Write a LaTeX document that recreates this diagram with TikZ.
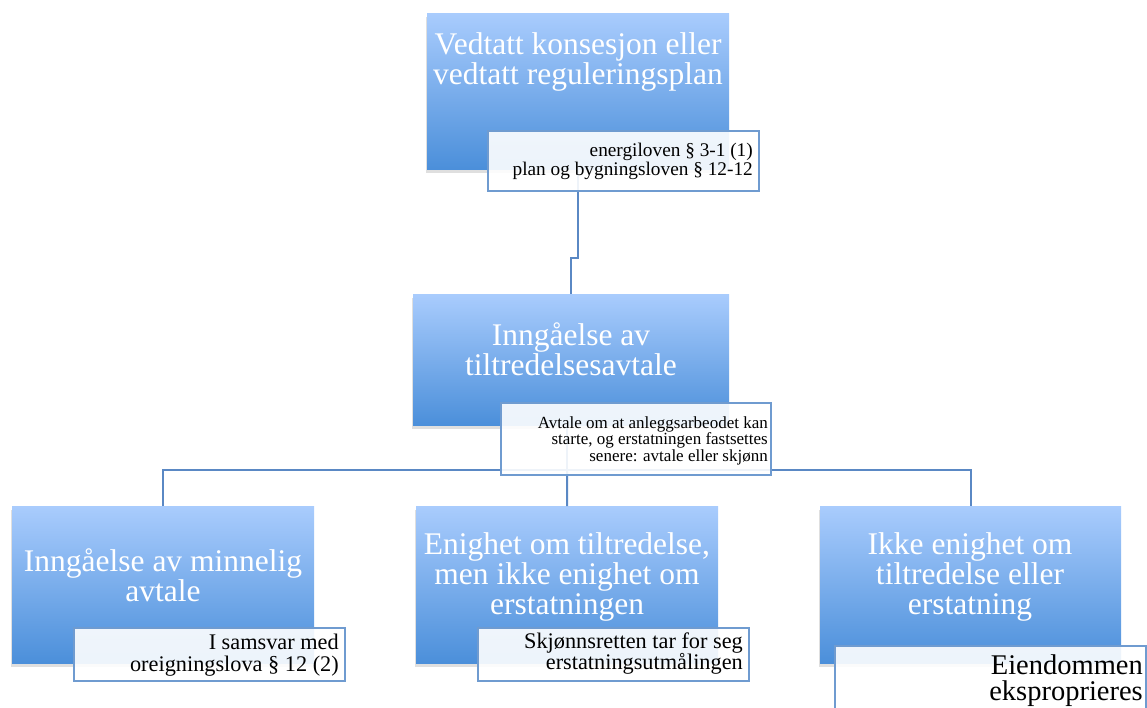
\documentclass[tikz,border=0pt]{standalone}
\usepackage{fontspec}
\setmainfont{Liberation Serif}
\usetikzlibrary{shadows}
\definecolor{topblue}{HTML}{A9CCFD}
\definecolor{botblue}{HTML}{4B8FDA}
\definecolor{edgeblue}{HTML}{6F9BD0}
\definecolor{linkblue}{HTML}{5A88C4}
\tikzset{
  mainbox/.style={rectangle, inner sep=0pt, top color=topblue, bottom color=botblue,
    anchor=north west, drop shadow={shadow xshift=-1.5pt, shadow yshift=-4pt, opacity=0.25}},
  subbox/.style={rectangle, inner sep=0pt, draw=edgeblue, line width=1.6pt, fill=white,
    fill opacity=0.9, anchor=north west},
  maintext/.style={anchor=north, inner sep=0pt, text=white, align=center,
    font=\fontsize{31.5}{30}\selectfont},
  subtext/.style={anchor=north east, inner sep=0pt, text=black, align=right},
  link/.style={draw=linkblue, line width=2pt}
}
\begin{document}
\begin{tikzpicture}[x=1pt,y=-1pt]
\useasboundingbox (0,0) rectangle (1147,707);
% coordinates for connectors
\coordinate (j1) at (574,258);
\coordinate (bus) at (567,470);
% main boxes
\node[mainbox, minimum width=302pt, minimum height=156pt] (top) at (427,13) {};
\node[mainbox, minimum width=316pt, minimum height=131pt] (mid) at (413,294) {};
\node[mainbox, minimum width=302pt, minimum height=157pt] (b1) at (12,506) {};
\node[mainbox, minimum width=302pt, minimum height=157pt] (b2) at (416,506) {};
\node[mainbox, minimum width=301pt, minimum height=157pt] (b3) at (820,506) {};
% connectors
\draw[link] (top.south) -- (top.south |- j1) -- (mid.north |- j1) -- (mid.north);
\draw[link] (bus |- mid.south) -- (bus);
\draw[link] (b1.north) |- (bus) -| (b3.north);
\draw[link] (bus) -- (b2.north);
% main texts
\node[maintext] (ttop) at (578,32) {Vedtatt konsesjon eller\\vedtatt reguleringsplan};
\node[maintext] (tmid) at (571,322) {Inngåelse av\\tiltredelsesavtale};
\node[maintext] (tb1) at (163,548) {Inngåelse av minnelig\\avtale};
\node[maintext] (tb2) at (567,532) {Enighet om tiltredelse,\\men ikke enighet om\\erstatningen};
\node[maintext] (tb3) at (970,532) {Ikke enighet om\\tiltredelse eller\\erstatning};
% sub boxes
\node[subbox, minimum width=271pt, minimum height=60pt] (stop) at (487,130) {};
\node[subbox, minimum width=270pt, minimum height=72pt] (smid) at (500,402) {};
\node[subbox, minimum width=271pt, minimum height=53pt] (sb1) at (73,627) {};
\node[subbox, minimum width=271pt, minimum height=53pt] (sb2) at (477,627) {};
\node[subbox, minimum width=311pt, minimum height=80pt] (sb3) at (834,645) {};
% sub texts
\node[subtext, font=\fontsize{19.3}{19}\selectfont] (tstop) at (753,143) {energiloven § 3-1 (1)\\plan og bygningsloven § 12-12};
\node[subtext, font=\fontsize{17}{15}\selectfont] (tsmid) at (768,416) {Avtale om at anleggsarbeodet kan\\starte, og erstatningen fastsettes\\senere: avtale eller skjønn};
\node[subtext, font=\fontsize{22.3}{22}\selectfont] (tsb1) at (339,634) {I samsvar med\\oreigningslova § 12 (2)};
\node[subtext, font=\fontsize{22.3}{21}\selectfont] (tsb2) at (743,633) {Skjønnsretten tar for seg\\erstatningsutmålingen};
\node[subtext, font=\fontsize{28.5}{26}\selectfont] (tsb3) at (1143,655) {Eiendommen\\eksproprieres};
\end{tikzpicture}
\end{document}
